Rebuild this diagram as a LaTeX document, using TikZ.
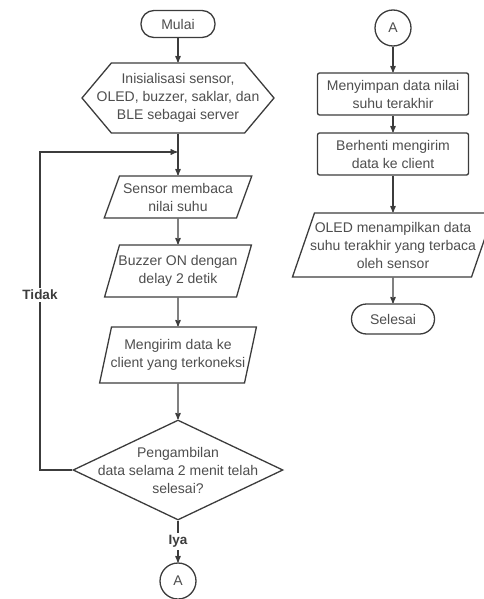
\documentclass[tikz,border=0pt]{standalone}
\usepackage{fontspec}
\setmainfont{Liberation Sans}
\usepackage{tikz}
\usetikzlibrary{arrows,shapes}

\definecolor{flowline}{RGB}{60,60,60}
\definecolor{flowtext}{RGB}{78,78,78}

% empty body of a given width and height (pt) for the data boxes
\newcommand{\iobox}[2]{\hbox to #1pt{\vrule width 0pt height #2pt depth 0pt\hfil}}

\begin{document}
\begin{tikzpicture}[x=1pt,y=-1pt,font=\fontsize{14}{18}\selectfont,
  every node/.style={align=center,text=flowtext,inner sep=0pt},
  shapeline/.style={draw=flowline,line width=1.3pt,fill=white,inner sep=1pt},
  terminal/.style={shapeline,rounded corners=13pt,minimum width=74pt,minimum height=27pt},
  prep/.style={shapeline,signal,signal to=west and east,signal pointer angle=100,
    minimum width=192pt,minimum height=70pt},
  process/.style={shapeline,rectangle,rounded corners=2pt,minimum width=151pt,minimum height=42pt},
  io/.style={shapeline,trapezium,trapezium left angle=#1,trapezium right angle=180-#1,
    inner sep=0pt},
  io/.default=74,
  decision/.style={shapeline,diamond,minimum width=210pt,minimum height=100pt},
  connector/.style={shapeline,circle,minimum size=36pt},
  inside/.style={label={center:{#1}}},
  answer/.style={fill=white,text=flowline,inner sep=2pt,
    font=\fontsize{13.5}{16}\selectfont\bfseries},
  flow/.style={->,>=stealth',draw=flowline,line width=1.3pt}]

    \useasboundingbox (0,0) rectangle (483,599);

    % left column
    \node[terminal](start) at (178,24){Mulai};
    \node[prep,inside={Inisialisasi sensor,\\OLED, buzzer, saklar, dan\\BLE sebagai server}](init) at (178,98){};
    \node[io=70,inside={Sensor membaca\\nilai suhu}](read) at (178,197){\iobox{117}{42}};
    \node[io,inside={Buzzer ON dengan\\delay 2 detik}](buzz) at (178,271){\iobox{117}{52}};
    \node[io=78,inside={Mengirim data ke\\client yang terkoneksi}](send) at (178,355){\iobox{133}{56}};
    \node[decision,inside={Pengambilan\\data selama 2 menit telah\\selesai?}](check) at (178,470){};
    \node[connector](endA) at (178,581){A};
    \coordinate (loop) at (40,152);
    \coordinate (join) at (177,152);

    % right column
    \node[connector](startA) at (393,28){A};
    \node[process](save) at (393,94){Menyimpan data nilai\\suhu terakhir};
    \node[process](stop) at (393,154){Berhenti mengirim\\data ke client};
    \node[io=71,inside={OLED menampilkan data\\suhu terakhir yang terbaca\\oleh sensor}](show) at (393,245){\iobox{157}{64}};
    \node[terminal,minimum width=83pt,minimum height=30pt,rounded corners=15pt](finish) at (393,319){Selesai};

    \draw[flow](start) -- (init);
    \draw[flow](init) -- (read);
    \draw[flow](read) -- (buzz);
    \draw[flow](buzz) -- (send);
    \draw[flow](send) -- (check);
    \draw[flow](check.west) -| node[answer,pos=0.775]{Tidak} (loop) -- (join);
    \draw[flow](check) -- node[answer]{Iya} (endA);

    \draw[flow](startA) -- (save);
    \draw[flow](save) -- (stop);
    \draw[flow](stop) -- (show);
    \draw[flow](show) -- (finish);
\end{tikzpicture}
\end{document}
